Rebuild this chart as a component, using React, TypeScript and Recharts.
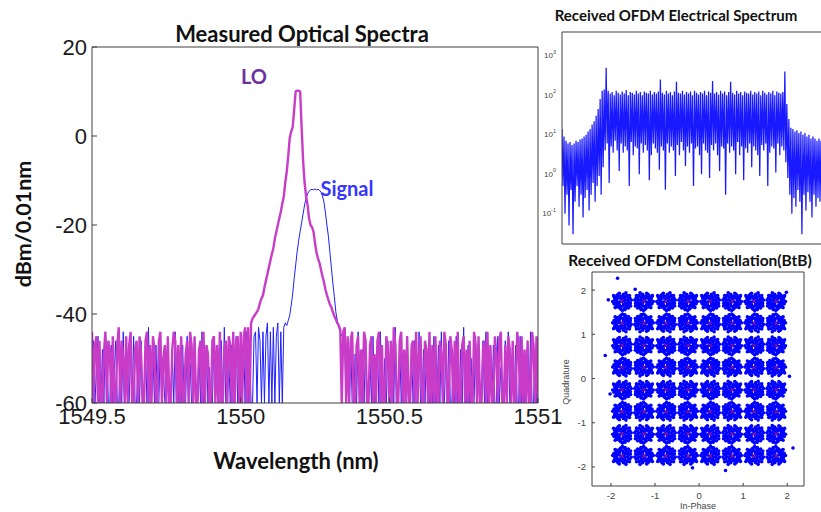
import React from 'react';
import { LineChart, Line, XAxis, YAxis, ScatterChart, Scatter } from 'recharts';

// optical spectrum sweep: 1549.5 .. 1551 nm in 0.005 nm steps
const WL_START = 1549.5;
const WL_STEP = 0.005;
const wlTicks = [1549.5, 1550, 1550.5, 1551];
const wlInnerTicks = [1550, 1550.5];
const dbmTicks = [-60, -40, -20, 0, 20];
const dbmInnerTicks = [-40, -20, 0];

const loDbm = [
  -44, -60, -47, -45, -60, -46, -60, -60, -49, -44, -60, -46, -48, -60, -45, -60, -60, -47, -43, -60,
  -46, -50, -60, -45, -60, -47, -44, -60, -60, -48, -46, -60, -45, -49, -60, -60, -46, -44, -60, -47,
  -60, -45, -48, -60, -60, -46, -44, -60, -50, -47, -60, -45, -60, -60, -48, -44, -46, -60, -47, -60,
  -45, -60, -60, -49, -46, -60, -44, -47, -60, -45, -60, -60, -48, -46, -60, -44, -60, -47, -49, -60,
  -60, -46, -45, -60, -47, -60, -44, -60, -60, -48, -46, -60, -45, -47, -60, -44, -60, -46, -45, -60,
  -44, -60, -45, -43, -60, -43, -60, -42, -41, -40.5, -40, -39.5, -38.8, -37.5, -36.5, -35.8, -34, -32.5, -31, -29.5,
  -28, -26.5, -25.2, -23, -21.5, -20, -18.5, -17, -15.2, -13.6, -10.5, -8, -4.5, -0.5, 1, 2, 6, 10, 10.2, 10.2,
  10, 2, -5.5, -10.5, -13.5, -15.5, -18.5, -20, -20.5, -21.5, -24, -26.2, -27.5, -28.5, -30, -31.5, -32.8, -34.5, -35.7, -36.8,
  -37.8, -38.5, -39.5, -40.5, -41.2, -42, -42.6, -43.5,
  -60, -44, -43, -60, -45, -60, -46, -44, -60, -60, -47, -45, -60, -48, -60, -44, -46, -60, -60, -47,
  -45, -60, -49, -60, -46, -44, -60, -47, -60, -60, -45, -48, -60, -46, -60, -43, -47, -60, -60, -46,
  -44, -60, -48, -60, -45, -60, -60, -47, -46, -60, -44, -60, -49, -45, -60, -60, -46, -48, -60, -44,
  -60, -47, -60, -45, -60, -60, -46, -49, -60, -44, -47, -60, -60, -45, -48, -60, -46, -60, -44, -60,
  -60, -47, -45, -60, -48, -60, -46, -60, -60, -44, -47, -60, -45, -60, -60, -48, -46, -60, -44, -60,
  -47, -60, -60, -45, -49, -60, -46, -44, -60, -60, -47, -60, -45, -48, -60, -46, -60, -60, -44, -47,
  -60, -45, -60, -48, -60, -46, -60, -60, -44, -47, -60, -45, -60,
];

const sigDbm = [
  -60, -46, -60, -52, -45, -60, -60, -48, -60, -44, -50, -60, -60, -47, -60, -53, -46, -60, -60, -49,
  -60, -44, -60, -51, -60, -60, -47, -60, -45, -60, -60, -50, -60, -46, -60, -60, -48, -60, -43, -60,
  -60, -49, -60, -47, -60, -60, -45, -60, -52, -60, -60, -46, -60, -60, -48, -60, -44, -60, -60, -50,
  -60, -47, -60, -60, -45, -60, -51, -60, -60, -46, -60, -60, -49, -60, -44, -60, -60, -47, -60, -52,
  -60, -60, -45, -60, -48, -60, -60, -46, -60, -43, -60, -60, -50, -60, -47, -60, -60, -45, -60, -49,
  -60, -60, -46, -60, -44, -60, -48, -60, -60, -45, -44, -60, -43, -46, -60, -44, -60, -45, -42, -60,
  -44, -60, -43, -60, -45, -42, -60, -44, -60, -43, -42, -42.6, -41.5, -40.3, -38, -35.5, -32, -29, -26, -23.5,
  -21.5, -19.5, -17.5, -15.5, -14, -13, -12.4, -12.1, -12, -12.1, -11.9, -12.1, -12, -12.2, -12.6, -13.4, -14.8, -17.2, -20, -22.5,
  -26, -29.5, -33, -36, -39.5, -41.5, -43, -44, -45, -44.5, -46,
  -60, -47, -60, -45, -60, -60, -49, -60, -44, -60, -60, -48, -60, -46, -60, -60, -51, -60, -45, -60,
  -60, -47, -60, -44, -60, -60, -50, -60, -46, -60, -60, -48, -60, -43, -60, -60, -47, -60, -52, -60,
  -60, -45, -60, -60, -49, -60, -46, -60, -60, -44, -60, -60, -48, -60, -47, -60, -60, -50, -60, -45,
  -60, -60, -47, -60, -44, -60, -60, -49, -60, -46, -60, -60, -51, -60, -45, -60, -60, -48, -60, -43,
  -60, -60, -47, -60, -50, -60, -60, -45, -60, -48, -60, -60, -46, -60, -44, -60, -60, -49, -60, -47,
  -60, -60, -45, -60, -52, -60, -60, -46, -60, -44, -60, -60, -48, -60, -47, -60, -60, -45, -60, -50,
  -60, -60, -46, -60, -44, -60, -60, -48, -60, -45,
];

// electrical spectrum: per bin upper / lower excursion (linear power)
const specHi = [
  14, 9, 7, 6, 6.5, 5.5, 6, 7, 6.5, 7.5, 8, 9, 10, 12, 14, 18, 22, 30, 45, 80, 130,
  140, 500, 130, 110, 120, 100, 130, 115, 105, 125, 110, 135, 100, 120, 115, 105, 130, 110, 120, 100,
  125, 115, 110, 130, 105, 120, 110, 125, 250, 115, 105, 130, 110, 120, 100, 125, 220, 115, 110, 130,
  105, 120, 110, 125, 100, 130, 115, 105, 120, 110, 130, 100, 125, 115, 230, 110, 120, 105, 130, 110,
  125, 100, 120, 220, 115, 105, 130, 110, 120, 100, 125, 115, 110, 130, 105, 120, 110, 125, 100, 130,
  115, 105, 120, 110, 130, 100, 125, 115, 110, 120,
  400, 60, 25, 15, 14, 12, 13, 11, 12, 10, 11, 9, 10, 8, 9, 8, 7, 8, 7,
];
const specLo = [
  0.5, 0.1, 0.3, 0.05, 0.4, 0.03, 0.2, 0.5, 0.15, 0.3, 0.08, 0.25, 0.4, 0.12, 0.3, 0.6, 0.2, 0.5, 0.9, 0.3, 1.5,
  4, 6, 0.6, 5, 3.5, 7, 4, 1.2, 6, 3.5,
  5, 4, 0.5, 6.5, 3, 5, 4.5, 1, 6, 3.5,
  5.5, 4, 0.7, 3, 6, 4.5, 3.5, 1.3, 5, 4,
  0.4, 6, 3.5, 5, 4, 0.9, 5.5, 3, 6.5, 4,
  1.6, 5, 3.5, 6, 0.5, 4.5, 5, 3, 1, 6,
  4, 3.5, 0.8, 5.5, 4, 6, 3, 1.2, 5, 4.5,
  0.3, 6, 3.5, 5, 4, 1, 6.5, 3, 5, 0.7,
  4.5, 3.5, 6, 1.5, 5, 4, 3, 0.9, 5.5, 4,
  6, 0.5, 3.5, 5, 4.5, 1.1, 6, 3, 5, 4,
  2, 0.8, 0.3, 0.1, 0.25, 0.15, 0.4, 0.2, 0.03, 0.3, 0.12, 0.35, 0.2, 0.08, 0.3, 0.15, 0.25, 0.2, 0.1,
];
const specTicks = [18, 47, 76, 105, 134, 163, 191, 220, 248];
const logTicks = [0.1, 1, 10, 100, 1000];

// 64-QAM constellation
const qamLevels = [-1.75, -1.25, -0.75, -0.25, 0.25, 0.75, 1.25, 1.75];
const clusterSpread = [
  [0, 0], [0.05, 0.025], [-0.055, 0.02], [0.02, -0.06], [-0.025, -0.05], [0.09, 0.05], [-0.095, 0.035],
  [0.07, -0.09], [-0.085, -0.085], [0.12, -0.02], [-0.125, -0.01], [0.025, 0.11], [-0.02, 0.12], [0.13, 0.09],
  [-0.13, 0.095], [0.11, -0.125], [-0.12, -0.12], [0.16, 0.02], [-0.16, -0.035], [0.035, -0.155], [-0.05, 0.155],
  [0.085, 0.145], [-0.09, -0.155], [0.18, -0.07], [-0.18, 0.06], [0.145, 0.155], [-0.155, 0.145], [0.055, 0.18],
  [-0.06, -0.18], [0.195, 0.11], [-0.19, -0.125], [0.09, -0.19], [0.21, -0.025], [-0.21, 0.01], [0.01, 0.21],
  [0.125, 0.055], [-0.07, 0.07], [0.06, -0.035], [-0.11, -0.055], [0.17, -0.13], [0.035, 0.06], [-0.035, -0.11],
  [0.095, 0.09], [-0.06, 0.09], [0.145, -0.06], [-0.145, 0.035], [0.025, -0.13], [-0.11, 0.13], [0.07, 0.19],
  [-0.17, -0.085], [0.19, 0.05], [-0.025, 0.18],
];
const strayPoints = [
  [-1.85, 2.27], [-2.13, 0.52], [2.13, -1.57], [-2.06, 1.78], [1.98, 1.95], [-1.45, 2.02],
  [0.6, -2.08], [-0.15, -2.02], [2.05, 0.05], [-2.02, -0.35],
];
const iqTicksX = [-2, -1, 0, 1, 2];
const iqTicksY = [-2, -1.5, -1, -0.5, 0, 0.5, 1, 1.5, 2];

const opticalRows = loDbm.map((v, i) => ({ wl: WL_START + i * WL_STEP, lo: v, sig: sigDbm[i] }));
const specRows = specHi.flatMap((h, k) => [
  { bin: 2 * k, p: h },
  { bin: 2 * k + 1, p: specLo[k] },
]);
const idealPoints = qamLevels.flatMap((q) => qamLevels.map((i) => ({ i, q })));
const rxPoints = [
  ...qamLevels.flatMap((q, r) =>
    qamLevels.flatMap((i, c) =>
      clusterSpread.map(([dx, dy]) => ({ i: i + (c % 2 ? -dx : dx), q: q + (r % 2 ? -dy : dy) }))
    )
  ),
  ...strayPoints.map(([i, q]) => ({ i, q })),
];

const AX = '#404040';
const bold = { fontFamily: 'Lato, sans-serif', fontWeight: 700, color: '#111' };

function Txt({ x, y, size, color, rotate, children }: any) {
  return (
    <div
      style={{
        ...bold,
        position: 'absolute',
        left: x,
        top: y,
        fontSize: size,
        color: color || '#111',
        whiteSpace: 'nowrap',
        transform: `translate(-50%,-50%)${rotate ? ' rotate(-90deg)' : ''}`,
      }}
    >
      {children}
    </div>
  );
}

const MainLeftTick = ({ x, y, payload }: any) => (
  <g>
    <text x={x} y={y} textAnchor="end" dominantBaseline="central" fontSize={22} fill="#1a1a1a" fontFamily="Liberation Sans">
      {payload.value}
    </text>
    <line x1={x + 5} x2={x + 10} y1={y} y2={y} stroke={AX} />
  </g>
);
const MainBottomTick = ({ x, y, payload }: any) => (
  <g>
    <text x={x} y={y} dy="0.71em" textAnchor="middle" fontSize={22} fill="#1a1a1a" fontFamily="Liberation Sans">
      {payload.value}
    </text>
    <line x1={x} x2={x} y1={y - 5} y2={y - 10} stroke={AX} />
  </g>
);
const LogTick = ({ x, y, payload }: any) => (
  <text x={x} y={y} textAnchor="end" dominantBaseline="central" fontSize={8} fill="#444" fontFamily="Liberation Sans">
    10
    <tspan dy={-4} fontSize={5.5}>
      {Math.round(Math.log10(payload.value))}
    </tspan>
  </text>
);
const IqLeftTick = ({ x, y, payload }: any) => (
  <g>
    <text x={x} y={y} textAnchor="end" dominantBaseline="central" fontSize={9.5} fill="#444" fontFamily="Liberation Sans">
      {payload.value}
    </text>
    <line x1={x + 6} x2={x + 9} y1={y} y2={y} stroke={AX} />
  </g>
);
const IqBottomTick = ({ x, y, payload }: any) => (
  <g>
    <text x={x} y={y} dy="0.71em" textAnchor="middle" fontSize={9.5} fill="#444" fontFamily="Liberation Sans">
      {payload.value}
    </text>
    <line x1={x} x2={x} y1={y - 6} y2={y - 9} stroke={AX} />
  </g>
);
const Dot = ({ cx, cy }: any) => <circle cx={cx} cy={cy} r={1.8} fill="#0000ff" />;
const Cross = ({ cx, cy }: any) => (
  <g stroke="#d42050" strokeWidth={0.8}>
    <line x1={cx - 2} y1={cy - 2} x2={cx + 2} y2={cy + 2} />
    <line x1={cx - 2} y1={cy + 2} x2={cx + 2} y2={cy - 2} />
  </g>
);

export default function App() {
  return (
    <div style={{ position: 'absolute', left: 0, top: 0, width: 821, height: 512, overflow: 'hidden', background: '#fff' }}>
      {/* measured optical spectra */}
      <div style={{ position: 'absolute', left: 0, top: 0 }}>
        <LineChart width={570} height={512} data={opticalRows} margin={{ top: 47, right: 32, bottom: 0, left: 0 }}>
          <XAxis
            dataKey="wl"
            type="number"
            domain={[1549.5, 1551]}
            allowDataOverflow
            ticks={wlTicks}
            height={109}
            tickSize={5}
            tickMargin={0}
            tickLine={false}
            tick={<MainBottomTick />}
            axisLine={{ stroke: AX }}
          />
          <XAxis
            xAxisId="top"
            orientation="top"
            type="number"
            domain={[1549.5, 1551]}
            allowDataOverflow
            ticks={wlInnerTicks}
            height={1}
            mirror
            tick={false}
            tickSize={5}
            tickLine={{ stroke: AX }}
            axisLine={{ stroke: AX }}
          />
          <YAxis
            type="number"
            domain={[-60, 20]}
            allowDataOverflow
            ticks={dbmTicks}
            width={92}
            tickSize={5}
            tickMargin={0}
            tickLine={false}
            tick={<MainLeftTick />}
            axisLine={{ stroke: AX }}
          />
          <YAxis
            yAxisId="right"
            orientation="right"
            type="number"
            domain={[-60, 20]}
            allowDataOverflow
            ticks={dbmInnerTicks}
            width={1}
            mirror
            tick={false}
            tickSize={5}
            tickLine={{ stroke: AX }}
            axisLine={{ stroke: AX }}
          />
          <Line dataKey="sig" stroke="#1f1fff" strokeWidth={1} dot={false} isAnimationActive={false} />
          <Line dataKey="lo" stroke="#c83cc8" strokeWidth={2.4} dot={false} isAnimationActive={false} />
        </LineChart>
      </div>
      <Txt x={302} y={33} size={22}>Measured Optical Spectra</Txt>
      <Txt x={296} y={460} size={22}>Wavelength (nm)</Txt>
      <Txt x={23} y={224} size={21.5} rotate>dBm/0.01nm</Txt>
      <Txt x={254} y={76} size={20} color="#7030a0">LO</Txt>
      <Txt x={347} y={188} size={20} color="#3535ff">Signal</Txt>

      {/* received electrical spectrum */}
      <div style={{ position: 'absolute', left: 540, top: 0 }}>
        <LineChart width={285} height={250} data={specRows} margin={{ top: 32, right: 0, bottom: 6, left: 0 }}>
          <XAxis
            dataKey="bin"
            type="number"
            domain={[0, 262]}
            allowDataOverflow
            ticks={specTicks}
            height={1}
            mirror
            tick={false}
            tickSize={4}
            tickLine={{ stroke: AX }}
            axisLine={{ stroke: AX }}
          />
          <XAxis
            xAxisId="top"
            orientation="top"
            type="number"
            domain={[0, 262]}
            allowDataOverflow
            ticks={specTicks}
            height={1}
            mirror
            tick={false}
            tickSize={3}
            tickLine={{ stroke: AX }}
            axisLine={{ stroke: AX }}
          />
          <YAxis
            type="number"
            scale="log"
            domain={[0.017, 4000]}
            allowDataOverflow
            ticks={logTicks}
            width={22}
            tickSize={4}
            tickMargin={2}
            tickLine={false}
            tick={<LogTick />}
            axisLine={{ stroke: AX }}
          />
          <Line dataKey="p" stroke="#0000ff" strokeOpacity={0.9} strokeWidth={1.25} dot={false} isAnimationActive={false} />
        </LineChart>
      </div>
      <Txt x={676} y={15} size={15}>Received OFDM Electrical Spectrum</Txt>

      {/* received constellation */}
      <div style={{ position: 'absolute', left: 540, top: 250 }}>
        <ScatterChart width={281} height={262} margin={{ top: 22, right: 17, bottom: 0, left: 0 }}>
          <XAxis
            dataKey="i"
            type="number"
            domain={[-2.43, 2.38]}
            allowDataOverflow
            ticks={iqTicksX}
            height={26}
            tickSize={4}
            tickMargin={2}
            tickLine={false}
            tick={<IqBottomTick />}
            axisLine={{ stroke: AX }}
          />
          <XAxis
            xAxisId="top"
            orientation="top"
            type="number"
            domain={[-2.43, 2.38]}
            allowDataOverflow
            ticks={iqTicksX}
            height={1}
            mirror
            tick={false}
            tickSize={3}
            tickLine={{ stroke: AX }}
            axisLine={{ stroke: AX }}
          />
          <YAxis
            dataKey="q"
            type="number"
            domain={[-2.43, 2.41]}
            allowDataOverflow
            ticks={iqTicksY}
            width={52}
            tickSize={4}
            tickMargin={2}
            tickLine={false}
            tick={<IqLeftTick />}
            axisLine={{ stroke: AX }}
          />
          <YAxis
            yAxisId="right"
            orientation="right"
            type="number"
            domain={[-2.43, 2.41]}
            allowDataOverflow
            ticks={iqTicksY}
            width={1}
            mirror
            tick={false}
            tickSize={3}
            tickLine={{ stroke: AX }}
            axisLine={{ stroke: AX }}
          />
          <Scatter data={rxPoints} shape={<Dot />} isAnimationActive={false} />
          <Scatter data={idealPoints} shape={<Cross />} isAnimationActive={false} />
        </ScatterChart>
      </div>
      <Txt x={690} y={260} size={15.5}>Received OFDM Constellation(BtB)</Txt>
      <div style={{ position: 'absolute', left: 566, top: 382, transform: 'translate(-50%,-50%) rotate(-90deg)', fontFamily: 'Liberation Sans', fontSize: 9, color: '#444', whiteSpace: 'nowrap' }}>
        Quadrature
      </div>
      <div style={{ position: 'absolute', left: 698, top: 506, transform: 'translate(-50%,-50%)', fontFamily: 'Liberation Sans', fontSize: 9, color: '#444', whiteSpace: 'nowrap' }}>
        In-Phase
      </div>
    </div>
  );
}
